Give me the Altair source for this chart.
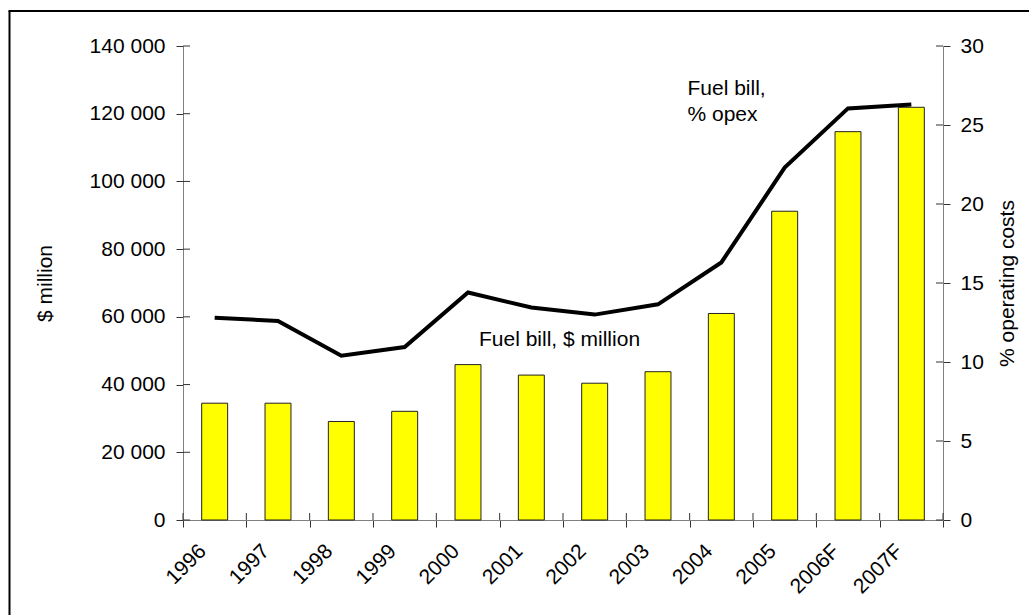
import altair as alt
import pandas as pd

# ---- data ----
years = ["1996", "1997", "1998", "1999", "2000", "2001", "2002", "2003",
         "2004", "2005", "2006F", "2007F"]
fuel_bill_musd = [34500, 34500, 29100, 32100, 45900, 42800, 40400, 43800,
                  61000, 91200, 114700, 121900]
fuel_pct_opex = [12.8, 12.6, 10.4, 10.95, 14.4, 13.45, 13.0, 13.65,
                 16.3, 22.3, 26.05, 26.3]
left_ticks = [0, 20000, 40000, 60000, 80000, 100000, 120000, 140000]
right_ticks = [0, 5, 10, 15, 20, 25, 30]

df = pd.DataFrame({"year": years, "bill": fuel_bill_musd, "pct": fuel_pct_opex})
one = pd.DataFrame({"a": [0]})

W, H = 760, 474
FONT = "Liberation Sans"
FS = 21
TICK = "#333333"
DOMAIN = "#808080"

xscale = alt.Scale(paddingInner=0, paddingOuter=0)
xaxis = alt.Axis(title=None, labelAngle=-45, labelFontSize=FS, labelFont=FONT,
                 labelColor="black", tickBand="extent", tickSize=7,
                 tickColor=TICK, domainColor=DOMAIN, labelPadding=13,
                 labelOffset=-20, grid=False)


def X(**kw):
    return alt.X("year:N", sort=years, scale=xscale, axis=xaxis, **kw)


lscale = alt.Scale(domain=[0, 140000], nice=False, zero=True)
rscale = alt.Scale(domain=[0, 30], nice=False, zero=True)

left_axis = alt.Axis(orient="left", values=left_ticks, title="$ million",
                     labelExpr="replace(format(datum.value, ','), regexp(',', 'g'), ' ')",
                     tickSize=7, tickColor=TICK, domainColor=DOMAIN,
                     labelPadding=11, labelFontSize=FS, labelFont=FONT,
                     labelColor="black", titleFontSize=FS, titleFont=FONT,
                     titleFontWeight="normal", titleColor="black",
                     titleAngle=270, titleX=-137.5, titleY=237,
                     titleBaseline="middle", titleAlign="center", grid=False)

right_axis = alt.Axis(orient="right", values=right_ticks,
                      title="% operating costs",
                      tickSize=7, tickColor=TICK, domainColor=DOMAIN,
                      labelPadding=10, labelFontSize=FS, labelFont=FONT,
                      labelColor="black", titleFontSize=FS, titleFont=FONT,
                      titleFontWeight="normal", titleColor="black",
                      titleAngle=270, titleX=64, titleY=237,
                      titleBaseline="middle", titleAlign="center", grid=False)

bars = alt.Chart(df).mark_bar(
    width=alt.RelativeBandSize(0.41), color="#FFFF00", stroke="#222222",
    strokeWidth=1
).encode(
    x=X(),
    y=alt.Y("bill:Q", scale=lscale, axis=left_axis),
)

lticks_in = alt.Chart(pd.DataFrame({"bill": left_ticks})).mark_rule(
    color=TICK, strokeWidth=1
).encode(
    y=alt.Y("bill:Q", scale=lscale, axis=left_axis),
    x=alt.value(0), x2=alt.value(7),
)

xticks_in = alt.Chart(df).mark_rule(color=TICK, strokeWidth=1).encode(
    x=X(bandPosition=0), y=alt.value(H - 7), y2=alt.value(H),
)
xticks_end = alt.Chart(df).transform_filter(
    alt.datum.year == years[-1]
).mark_rule(color=TICK, strokeWidth=1).encode(
    x=X(bandPosition=1), y=alt.value(H - 7), y2=alt.value(H),
)

border_left = alt.Chart(one).mark_rule(color="black", strokeWidth=2).encode(
    x=alt.value(-173.5), y=alt.value(-35), y2=alt.value(620),
)
border_top = alt.Chart(one).mark_rule(color="black", strokeWidth=2).encode(
    x=alt.value(-174.5), x2=alt.value(900), y=alt.value(-35),
)

ann1 = alt.Chart(one).mark_text(
    align="left", baseline="alphabetic", fontSize=FS, font=FONT, color="black"
).encode(x=alt.value(296), y=alt.value(299.5), text=alt.value("Fuel bill, $ million"))
ann2 = alt.Chart(one).mark_text(
    align="left", baseline="alphabetic", fontSize=FS, font=FONT, color="black"
).encode(x=alt.value(504.5), y=alt.value(49), text=alt.value("Fuel bill,"))
ann3 = alt.Chart(one).mark_text(
    align="left", baseline="alphabetic", fontSize=FS, font=FONT, color="black"
).encode(x=alt.value(504.5), y=alt.value(75), text=alt.value("% opex"))

left = alt.layer(bars, lticks_in, xticks_in, xticks_end, border_left,
                 border_top, ann1, ann2, ann3)

line = alt.Chart(df).mark_line(color="black", strokeWidth=4).encode(
    x=X(),
    y=alt.Y("pct:Q", scale=rscale, axis=right_axis),
)
rticks_in = alt.Chart(pd.DataFrame({"pct": right_ticks})).mark_rule(
    color=TICK, strokeWidth=1
).encode(
    y=alt.Y("pct:Q", scale=rscale, axis=right_axis),
    x=alt.value(W - 7), x2=alt.value(W),
)
right = alt.layer(line, rticks_in)

chart = alt.layer(left, right).resolve_scale(y="independent").properties(
    width=W, height=H,
    padding={"left": 183, "top": 46, "right": 86, "bottom": 95},
    autosize=alt.AutoSizeParams(type="none"),
    background="white",
).configure_view(stroke=None)

chart.save("out.html", embed_options={"renderer": "svg", "actions": False})
